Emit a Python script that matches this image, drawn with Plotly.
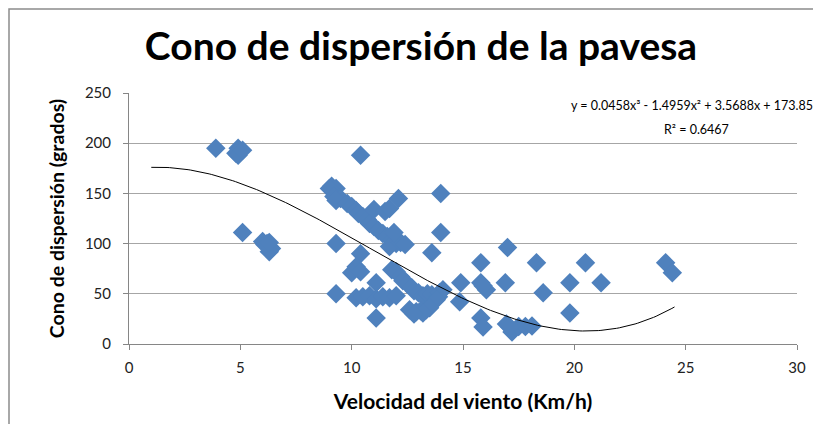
import numpy as np
import plotly.graph_objects as go

# Wind speed (km/h) and dispersion cone (degrees)
velocidad = [3.9, 4.9, 5.0, 4.8, 4.9, 5.1, 5.1,
             6.0, 6.2, 6.3, 6.4, 6.3, 6.1, 6.3,
             9.1, 9.3, 9.0, 9.2, 9.5, 9.3, 9.8, 10.0, 10.2, 10.3, 10.5, 10.7, 10.8,
             11.0, 11.2, 11.4, 11.6, 11.8, 12.0, 11.7, 12.2, 12.4,
             10.4, 12.1, 11.0, 11.5, 11.7, 11.9, 14.0, 14.0, 13.6, 9.3, 9.3,
             10.4, 10.2, 10.0, 10.4, 11.1, 10.2, 10.5, 10.8, 11.1, 11.4, 11.7, 12.0, 11.1,
             11.8, 12.0, 12.2, 12.3, 12.5, 12.7, 12.8, 13.0, 13.2, 13.4, 13.6, 13.9, 14.1, 13.95, 13.8,
             12.6, 12.9, 13.1, 13.35, 13.5, 13.2, 12.8,
             14.9, 14.85, 15.8, 15.8, 16.05, 15.9, 15.8, 15.9, 17.0, 16.9, 18.3, 18.6,
             16.95, 17.2, 17.5, 17.8, 18.1, 17.1,
             19.8, 20.5, 21.2, 19.8, 24.1, 24.4]
cono = [195, 195, 192, 190, 188, 193, 111,
        102, 100, 97, 95, 92, 99, 101,
        157, 155, 155, 147, 145, 143, 140, 137, 133, 130, 127, 124, 120,
        117, 113, 110, 107, 103, 100, 97, 101, 99,
        188, 145, 134, 132, 135, 111, 150, 111, 91, 100, 50,
        90, 77, 71, 72, 61, 46, 47, 48, 45, 47, 46, 48, 26,
        74, 72, 67, 63, 60, 56, 53, 51, 48, 50, 49, 47, 54, 51, 44,
        34, 32, 33, 34, 36, 31, 30,
        61, 42, 81, 61, 54, 58, 26, 17, 96, 61, 81, 51,
        20, 12, 17.5, 17.5, 18, 17,
        61, 81, 61, 31, 81, 71]

# Cubic trendline coefficients as printed on the chart
coef = [0.0458, -1.4959, 3.5688, 173.85]
r2 = 0.6467
trend_range = [1.0, 24.5]

x_ticks = [0, 5, 10, 15, 20, 25, 30]
y_ticks = [0, 50, 100, 150, 200, 250]

xt = np.linspace(trend_range[0], trend_range[1], 200)
yt = np.polyval(coef, xt)

FONT = "Lato"
fig = go.Figure()
fig.add_trace(go.Scatter(x=velocidad, y=cono, mode="markers",
                         marker=dict(symbol="diamond", size=15, color="#4F81BD",
                                     line=dict(width=0)),
                         showlegend=False, hoverinfo="x+y"))
fig.add_trace(go.Scatter(x=xt, y=yt, mode="lines",
                         line=dict(color="black", width=1),
                         showlegend=False, hoverinfo="skip"))

# The page body has an 8px default margin, so the figure is sized to fit the window
W, H = 805, 416
fig.update_layout(
    width=W, height=H,
    margin=dict(l=121, r=16, t=85, b=80, autoexpand=False),
    paper_bgcolor="white", plot_bgcolor="white",
    font=dict(family=FONT, size=14, color="black"),
    xaxis=dict(range=[0, 30], tickvals=x_ticks, showgrid=False, zeroline=False,
               automargin=False,
               showline=True, linecolor="#868686", linewidth=1,
               ticks="outside", ticklen=5, tickcolor="#868686", ticklabelstandoff=5,
               tickfont=dict(family=FONT, size=15, color="#222"),
               title=dict(text="<b>Velocidad del viento (Km/h)</b>",
                          font=dict(family=FONT, size=21, color="black"), standoff=19)),
    yaxis=dict(range=[0, 250], tickvals=y_ticks, showgrid=True, gridcolor="#A6A6A6",
               gridwidth=1, zeroline=False, automargin=False,
               showline=True, linecolor="#868686", linewidth=1,
               ticks="outside", ticklen=5, tickcolor="#868686", ticklabelstandoff=9,
               tickfont=dict(family=FONT, size=15, color="#222"),
               title=dict(text="<b>Cono de dispersión (grados)</b>",
                          font=dict(family=FONT, size=19.5, color="black"), standoff=15)),
    title=dict(text="<b>Cono de dispersión de la pavesa</b>",
               font=dict(family=FONT, size=39, color="black"),
               x=413 / W, xanchor="center", y=1 - 38 / H, yanchor="middle",
               automargin=False),
    shapes=[dict(type="rect", xref="paper", yref="paper",
                 x0=-120 / 668, x1=1.5, y0=-0.5, y1=(336 - 1) / 251,
                 line=dict(color="#8C8C8C", width=1.5), fillcolor="rgba(0,0,0,0)",
                 layer="below")],
)

eq = "y = %.4fx³ - %.4fx² + %.4fx + %.2f" % (coef[0], -coef[1], coef[2], coef[3])
fig.add_annotation(xref="paper", yref="paper", x=(692 - 129) / 668, y=(344 - 106) / 251,
                   text=eq, showarrow=False,
                   font=dict(family=FONT, size=12.5, color="black"),
                   xanchor="center", yanchor="middle")
fig.add_annotation(xref="paper", yref="paper", x=(696 - 129) / 668, y=(344 - 129) / 251,
                   text="R² = %.4f" % r2, showarrow=False,
                   font=dict(family=FONT, size=12.5, color="black"),
                   xanchor="center", yanchor="middle")

fig.write_html("out.html")
